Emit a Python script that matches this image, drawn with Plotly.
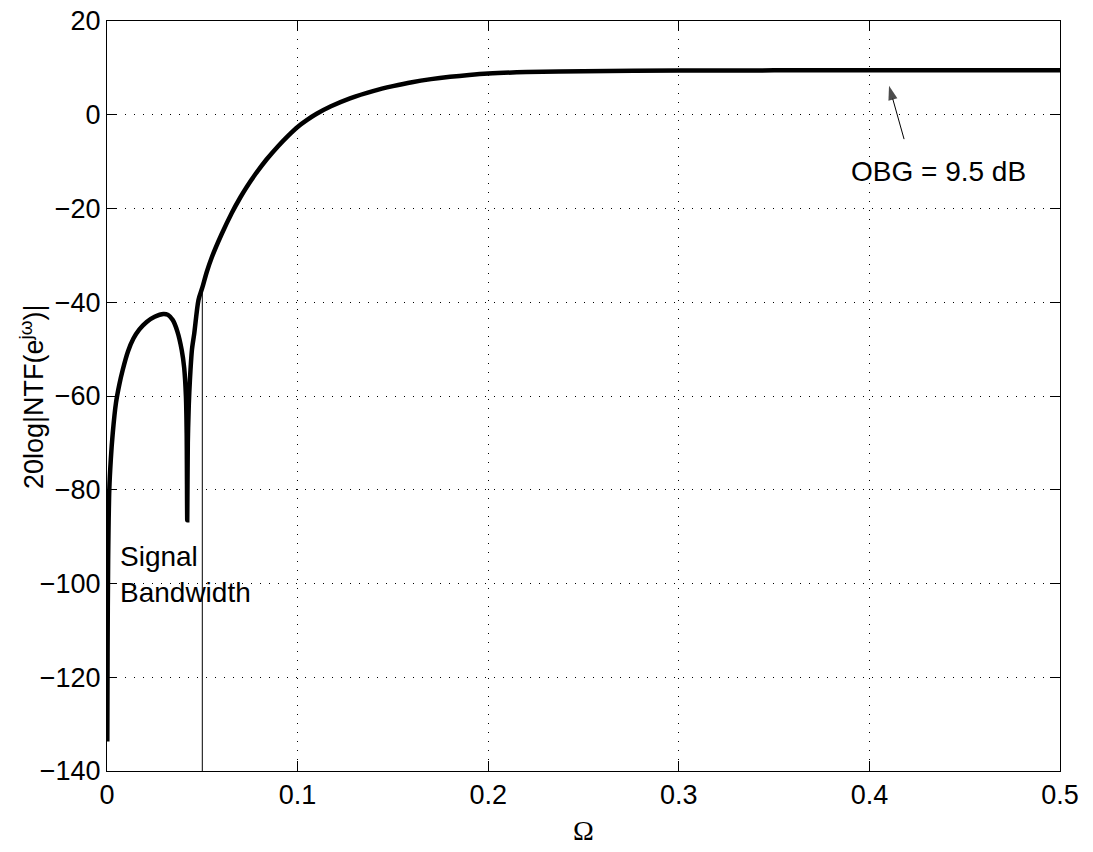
import plotly.graph_objects as go

# Normalised frequency Omega (cycles/sample) and NTF magnitude in dB
omega = [0.00015, 0.0003, 0.0006, 0.0012, 0.002, 0.003, 0.0047, 0.0065, 0.0082,
         0.011, 0.0138, 0.017, 0.0208, 0.025, 0.0296, 0.032, 0.0345, 0.0369,
         0.0392, 0.0405, 0.0414, 0.0418, 0.0421, 0.0424, 0.0429, 0.0435, 0.0446,
         0.0458, 0.048, 0.050, 0.0523, 0.055, 0.06, 0.0654, 0.07, 0.0733, 0.078,
         0.0838, 0.09, 0.095, 0.1, 0.105, 0.11, 0.1175, 0.1275, 0.14, 0.15, 0.16,
         0.17, 0.18, 0.19, 0.2, 0.22, 0.25, 0.3, 0.35, 0.4, 0.45, 0.5]
ntf_db = [-133.7, -115, -95, -80, -73.5, -68, -61.5, -57.5, -54.5,
          -50.5, -47.8, -45.8, -44.2, -43.1, -42.5, -42.7, -43.8, -46.2,
          -50.2, -54, -60, -68, -86.5, -70, -62, -56.6, -50,
          -46.6, -39.5, -36.9, -33.6, -30.4, -25.6, -21.0, -17.6, -15.4, -12.6,
          -9.5, -6.6, -4.5, -2.6, -1.1, 0.2, 1.8, 3.5, 5.1, 6.1, 6.95,
          7.6, 8.1, 8.5, 8.8, 9.1, 9.3, 9.42, 9.47, 9.5, 9.51, 9.52]

signal_bw = 0.05          # band edge marker
signal_bw_level = -37     # where the marker meets the curve
obg_db = 9.5

# OBG pointer: tail and head in data units
obg_arrow_x = [0.4182, 0.4103]
obg_arrow_y = [-5.2, 6.2]

x_ticks = [0, 0.1, 0.2, 0.3, 0.4, 0.5]
y_ticks = [-140, -120, -100, -80, -60, -40, -20, 0, 20]

font = "Liberation Sans, Arial, Helvetica, sans-serif"

fig = go.Figure()
fig.add_trace(go.Scatter(x=omega, y=ntf_db, mode="lines",
                         line=dict(color="black", width=4.5, shape="spline", smoothing=0.8),
                         showlegend=False, hoverinfo="skip"))
fig.add_trace(go.Scatter(x=[signal_bw, signal_bw], y=[-140, signal_bw_level],
                         mode="lines", line=dict(color="black", width=1),
                         showlegend=False, hoverinfo="skip"))
fig.add_trace(go.Scatter(x=obg_arrow_x, y=obg_arrow_y, mode="lines+markers",
                         line=dict(color="black", width=1),
                         marker=dict(symbol="arrow", size=[0, 15], angleref="previous",
                                     color="black", line=dict(width=0)),
                         showlegend=False, hoverinfo="skip"))

fig.add_annotation(x=0.4365, y=-12.2, xref="x", yref="y",
                   text=f"OBG = {obg_db} dB", showarrow=False,
                   font=dict(family=font, size=28, color="black"))
fig.add_annotation(x=0.0058, y=-98, xref="x", yref="y", xanchor="left",
                   align="left", text="Signal<br>Bandwidth", showarrow=False,
                   font=dict(family=font, size=28, color="black"))
# axis titles
fig.add_annotation(x=-0.0787, y=0.5, xref="paper", yref="paper", textangle=-90,
                   xanchor="center", yanchor="middle", showarrow=False,
                   text="20log|NTF(e<sup>jω</sup>)|",
                   font=dict(family=font, size=27, color="black"))
fig.add_annotation(x=0.5, y=-0.079, xref="paper", yref="paper",
                   xanchor="center", yanchor="middle", showarrow=False, text="Ω",
                   font=dict(family="Liberation Serif, Times New Roman, serif",
                             size=28, color="black"))

axis_common = dict(showline=True, linecolor="black", linewidth=1, mirror="allticks",
                   ticks="inside", ticklen=10, tickcolor="black", tickwidth=1,
                   showgrid=True, gridcolor="black", gridwidth=1, griddash="1px,8px",
                   zeroline=False, automargin=False,
                   tickfont=dict(family=font, size=27, color="black"))

fig.update_xaxes(range=[0, 0.5], tickvals=x_ticks,
                 ticktext=[("%g" % v) for v in x_ticks], **axis_common)
fig.update_yaxes(range=[-140, 20], tickvals=y_ticks, **axis_common)

fig.update_layout(width=1093, height=852, plot_bgcolor="white", paper_bgcolor="white",
                  margin=dict(l=107, r=33, t=21, b=81, autoexpand=False))

fig.write_html("out.html")
